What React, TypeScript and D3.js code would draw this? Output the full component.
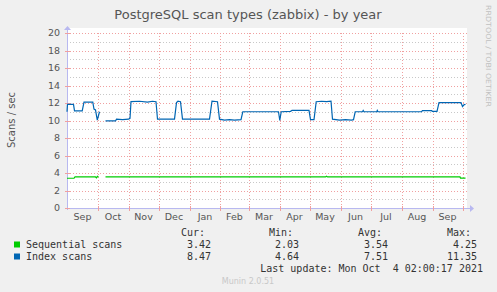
import React from "react";
import * as d3 from "d3";

const title = "PostgreSQL scan types (zabbix) - by year";
const yLabel = "Scans / sec";
const yTicks = [0, 2, 4, 6, 8, 10, 12, 14, 16, 18, 20];
const yMinor = [1, 3, 5, 7, 9, 11, 13, 15, 17, 19];
const monthLabels = ["Sep", "Oct", "Nov", "Dec", "Jan", "Feb", "Mar", "Apr", "May", "Jun", "Jul", "Aug", "Sep"];

const seqDates = [
  "2020-08-31T12:00", "2020-09-07T12:00", "2020-09-08T12:00", "2020-09-29T00:00", "2020-09-30T00:00",
  "2020-10-01T00:00", "2020-10-02T00:00", "2020-10-05T00:00", "2020-10-09T00:00", "2021-05-17T00:00",
  "2021-05-18T00:00", "2021-05-19T00:00", "2021-09-28T12:00", "2021-09-29T00:00", "2021-10-04T00:00",
];
const seqValues: (number | null)[] = [
  3.4, 3.4, 3.55, 3.55, 3.45, 3.62, 3.55, null, 3.55, 3.55, 3.63, 3.55, 3.55, 3.42, 3.42,
];

const idxDates = [
  "2020-08-31T12:00", "2020-09-01T00:00", "2020-09-07T00:00", "2020-09-08T00:00", "2020-09-15T17:00",
  "2020-09-17T12:00", "2020-09-26T07:00", "2020-09-27T12:00", "2020-09-29T00:00", "2020-09-30T19:00",
  "2020-10-03T00:00", "2020-10-05T00:00", "2020-10-09T00:00", "2020-10-19T00:00", "2020-10-20T00:00",
  "2020-10-26T00:00", "2020-11-01T00:00", "2020-11-02T12:00", "2020-11-03T12:00", "2020-11-12T00:00",
  "2020-11-20T00:00", "2020-11-25T00:00", "2020-11-28T12:00", "2020-11-30T00:00", "2020-12-17T00:00",
  "2020-12-19T00:00", "2020-12-20T12:00", "2020-12-23T00:00", "2020-12-25T00:00", "2021-01-21T00:00",
  "2021-01-23T12:00", "2021-01-29T00:00", "2021-01-31T00:00", "2021-02-05T00:00", "2021-02-10T00:00",
  "2021-02-15T00:00", "2021-02-21T12:00", "2021-02-23T07:00", "2021-03-31T00:00", "2021-04-01T07:00",
  "2021-04-02T17:00", "2021-04-12T00:00", "2021-04-13T12:00", "2021-04-30T12:00", "2021-05-02T00:00",
  "2021-05-05T12:00", "2021-05-07T17:00", "2021-05-13T00:00", "2021-05-18T00:00", "2021-05-22T12:00",
  "2021-05-24T00:00", "2021-05-31T00:00", "2021-06-06T00:00", "2021-06-12T00:00", "2021-06-14T00:00",
  "2021-06-15T17:00", "2021-06-23T00:00", "2021-06-23T17:00", "2021-06-24T12:00", "2021-07-07T07:00",
  "2021-07-07T19:00", "2021-07-08T12:00", "2021-08-21T00:00", "2021-08-22T00:00", "2021-08-31T00:00",
  "2021-09-01T00:00", "2021-09-05T12:00", "2021-09-07T12:00", "2021-09-29T12:00", "2021-10-01T00:00",
  "2021-10-02T12:00", "2021-10-04T00:00",
];
const idxValues: (number | null)[] = [
  11.0, 11.85, 11.85, 11.1, 11.1,
  12.1, 12.1, 11.3, 11.2, 10.05,
  11.0, null, 9.95, 9.95, 10.15,
  10.1, 10.15, 10.25, 12.15, 12.2,
  12.1, 12.2, 12.15, 10.15, 10.15,
  12.05, 12.2, 12.15, 10.15, 10.15,
  12.2, 12.15, 10.15, 10.05, 10.1,
  10.05, 10.1, 11.0, 11.0, 10.0,
  11.0, 11.05, 11.15, 11.15, 10.1,
  10.1, 12.15, 12.2, 12.15, 12.2,
  10.15, 10.05, 10.1, 10.05, 10.1,
  11.0, 11.0, 11.15, 11.0, 11.0,
  11.15, 11.0, 11.0, 11.12, 11.12,
  11.05, 11.05, 12.05, 12.05, 11.6,
  11.8, 11.85,
];

const legendNames = ["Sequential scans", "Index scans"];
const legendColors = ["#00cc00", "#0066b3"];
const legendCur = ["3.42", "8.47"];
const legendMin = ["2.03", "4.64"];
const legendAvg = ["3.54", "7.51"];
const legendMax = ["4.25", "11.35"];
const lastUpdate = "Last update: Mon Oct  4 02:00:17 2021";
const version = "Munin 2.0.51";
const watermark = "RRDTOOL / TOBI OETIKER";

const W = 497;
const H = 292;
const left = 67;
const right = 467;
const top = 33;
const bottom = 208;

export default function App() {
  const parse = d3.timeParse("%Y-%m-%dT%H:%M");
  const start = parse("2020-08-31T12:00")!;
  const end = parse("2021-10-05T12:00")!;
  const x = d3.scaleTime().domain([start, end]).range([left, right]);
  const y = d3.scaleLinear().domain([0, 20]).range([bottom, top]);

  const months = d3.timeMonth.range(d3.timeMonth.ceil(start), end);
  const gridMonths = months.filter((m) => x(m) > left + 2);

  type P = { d: Date; v: number | null };
  const seq: P[] = seqDates.map((s, i) => ({ d: parse(s)!, v: seqValues[i] }));
  const idx: P[] = idxDates.map((s, i) => ({ d: parse(s)!, v: idxValues[i] }));
  const line = d3
    .line<P>()
    .defined((p) => p.v !== null)
    .x((p) => x(p.d))
    .y((p) => y(p.v as number));

  const mono = "'DejaVu Sans Mono', monospace";
  const sans = "'DejaVu Sans', sans-serif";
  const axisColor = "#b8b8f0";
  const colX = [211, 299, 388, 477];
  const headers = ["Cur:", "Min:", "Avg:", "Max:"];
  const headerX = [181, 269, 358, 447];
  const rowsY = [245, 257];

  return (
    <svg width={W} height={H} style={{ position: "absolute", left: 0, top: 0 }} xmlns="http://www.w3.org/2000/svg">
      <rect x={0} y={0} width={W} height={H} fill="#f0f0f0" />
      <rect x={left} y={28} width={right - left} height={bottom - 28} fill="#ffffff" />

      {yMinor.map((v) => (
        <line key={"m" + v} x1={left} x2={right} y1={Math.round(y(v)) + 0.5} y2={Math.round(y(v)) + 0.5} stroke="#c8c8c8" strokeWidth={1} strokeDasharray="1,2" />
      ))}
      {yTicks.map((v) => (
        <line key={"M" + v} x1={left} x2={right} y1={Math.round(y(v)) + 0.5} y2={Math.round(y(v)) + 0.5} stroke="#f0a0a0" strokeWidth={1} strokeDasharray="1,2" />
      ))}
      {gridMonths.map((m, i) => (
        <line key={"v" + i} x1={Math.round(x(m)) + 0.5} x2={Math.round(x(m)) + 0.5} y1={top} y2={bottom} stroke="#f0a0a0" strokeWidth={1} strokeDasharray="1,2" />
      ))}

      <line x1={left - 2} x2={right + 4} y1={bottom + 0.5} y2={bottom + 0.5} stroke={axisColor} strokeWidth={1} />
      <line x1={left + 0.5} x2={left + 0.5} y1={bottom + 2} y2={top - 4} stroke={axisColor} strokeWidth={1} />
      <path d={`M${right + 3},${bottom - 3} L${right + 7},${bottom + 0.5} L${right + 3},${bottom + 4} Z`} fill={axisColor} />
      <path d={`M${left - 3},${top - 3} L${left + 0.5},${top - 7} L${left + 4},${top - 3} Z`} fill={axisColor} />
      {yTicks.map((v) => (
        <line key={"t" + v} x1={left - 2} x2={left + 3} y1={Math.round(y(v)) + 0.5} y2={Math.round(y(v)) + 0.5} stroke="#f0a0a0" strokeWidth={1} />
      ))}
      {gridMonths.map((m, i) => (
        <line key={"xt" + i} x1={Math.round(x(m)) + 0.5} x2={Math.round(x(m)) + 0.5} y1={bottom - 2} y2={bottom + 3} stroke="#f0a0a0" strokeWidth={1} />
      ))}

      {yTicks.map((v) => (
        <text key={"yl" + v} x={60} y={y(v)} dy="0.35em" textAnchor="end" fontFamily={sans} fontSize={9.5} fill="#555">
          {v}
        </text>
      ))}
      {months.map((m, i) => {
        const a = Math.max(x(m), left);
        const b = Math.min(x(d3.timeMonth.offset(m, 1)), right);
        return (
          <text key={"xl" + i} x={(x(m) + x(d3.timeMonth.offset(m, 1))) / 2} y={bottom + 9} dy="0.35em" textAnchor="middle" fontFamily={sans} fontSize={9.5} fill="#555">
            {monthLabels[i]}
          </text>
        );
      })}

      <path d={line(seq) || ""} fill="none" stroke={legendColors[0]} strokeWidth={1.2} />
      <path d={line(idx) || ""} fill="none" stroke={legendColors[1]} strokeWidth={1.2} />

      <text x={248} y={14} dy="0.35em" textAnchor="middle" fontFamily={sans} fontSize={13} fill="#555">
        {title}
      </text>
      <text transform={`translate(11,120) rotate(-90)`} textAnchor="middle" dy="0.35em" fontFamily={sans} fontSize={10} fill="#555">
        {yLabel}
      </text>
      <text transform={`translate(488,5) rotate(90)`} textAnchor="start" dy="0.35em" fontFamily={sans} fontSize={7} fill="#c0c0c0" textLength={102} lengthAdjust="spacingAndGlyphs">
        {watermark}
      </text>

      {headers.map((h, i) => (
        <text key={"h" + i} x={headerX[i]} y={232} dy="0.35em" fontFamily={mono} fontSize={10} fill="#333">
          {h}
        </text>
      ))}
      {legendNames.map((n, r) => (
        <g key={"lg" + r}>
          <rect x={14} y={rowsY[r] - 3.5} width={6} height={6} fill={legendColors[r]} />
          <text x={26} y={rowsY[r]} dy="0.3em" fontFamily={mono} fontSize={10} fill="#333" style={{ whiteSpace: "pre" }}>
            {n}
          </text>
          {[legendCur[r], legendMin[r], legendAvg[r], legendMax[r]].map((v, c) => (
            <text key={c} x={colX[c]} y={rowsY[r]} dy="0.3em" textAnchor="end" fontFamily={mono} fontSize={10} fill="#333">
              {v}
            </text>
          ))}
        </g>
      ))}
      <text x={483} y={268.5} dy="0.3em" textAnchor="end" fontFamily={mono} fontSize={10} fill="#333" style={{ whiteSpace: "pre" }}>
        {lastUpdate}
      </text>
      <text x={248} y={281} dy="0.35em" textAnchor="middle" fontFamily={sans} fontSize={8} fill="#c8c8c8">
        {version}
      </text>
    </svg>
  );
}
